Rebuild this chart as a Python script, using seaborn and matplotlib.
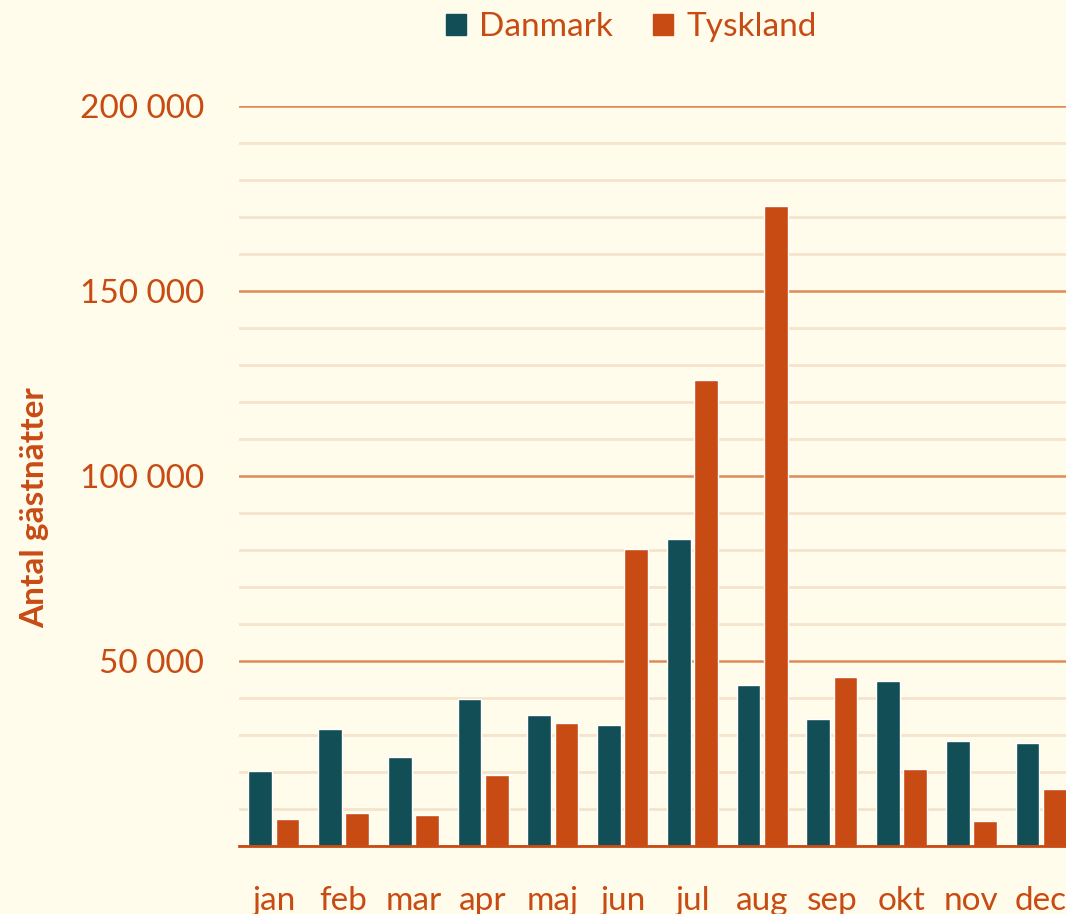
import seaborn as sns
import matplotlib.pyplot as plt
from matplotlib.ticker import MultipleLocator, FuncFormatter
import pandas as pd

# monthly guest nights
months = ["jan", "feb", "mar", "apr", "maj", "jun", "jul", "aug", "sep", "okt", "nov", "dec"]
danmark = [20200, 31600, 24000, 39700, 35400, 32700, 82900, 43500, 34300, 44500, 28300, 27800]
tyskland = [7300, 8900, 8400, 19200, 33200, 80200, 126000, 173000, 45600, 20800, 6700, 15400]

bg = "#FFFCEB"
teal = "#124E55"
orange = "#C84B14"

df = pd.DataFrame({"month": months * 2,
                   "value": danmark + tyskland,
                   "land": ["Danmark"] * 12 + ["Tyskland"] * 12})

sns.set_style("white")
plt.rcParams["font.family"] = ["Lato", "DejaVu Sans"]

fig = plt.figure(figsize=(10.66, 9.14), dpi=100, facecolor=bg)
ax = fig.add_axes([239 / 1066, 1 - 846 / 914, (1076 - 239) / 1066, (846 - 106) / 914])
ax.set_facecolor(bg)

sns.barplot(data=df, x="month", y="value", hue="land", order=months,
            palette=[teal, orange], width=0.78, gap=0.12, saturation=1,
            ax=ax, legend=False)

ax.set_xlim(-0.5, 11.5)
ax.set_ylim(0, 200000)
ax.yaxis.set_major_locator(MultipleLocator(50000))
ax.yaxis.set_minor_locator(MultipleLocator(10000))
ax.yaxis.set_major_formatter(
    FuncFormatter(lambda v, p: "" if v == 0 else f"{int(v):,}".replace(",", " ")))
ax.grid(which="minor", axis="y", color="#F5E4CC", linewidth=2)
ax.grid(which="major", axis="y", color="#E0895A", linewidth=1.8)
ax.set_axisbelow(True)

for s in ["top", "right", "left"]:
    ax.spines[s].set_visible(False)
ax.spines["bottom"].set_color(orange)
ax.spines["bottom"].set_linewidth(2)

ax.tick_params(axis="y", which="both", length=0, pad=25, labelsize=24, labelcolor=orange)
ax.tick_params(axis="x", length=0, pad=29, labelsize=24, labelcolor=orange)

ax.set_xlabel("")
ax.set_ylabel("")
fig.text(35 / 1066, 1 - 508 / 914, "Antal gästnätter", rotation=90, ha="center", va="center",
         fontsize=24, fontweight="bold", color=orange)

handles = [plt.Rectangle((0, 0), 1, 1, color=teal), plt.Rectangle((0, 0), 1, 1, color=orange)]
fig.legend(handles, ["Danmark", "Tyskland"], loc="center", bbox_to_anchor=(0.592, 0.970),
           ncol=2, frameon=False, fontsize=24, labelcolor=orange,
           handlelength=0.6, handleheight=0.6, handletextpad=0.4, columnspacing=1.2)

fig.savefig("out.png", dpi=100, facecolor=bg)
